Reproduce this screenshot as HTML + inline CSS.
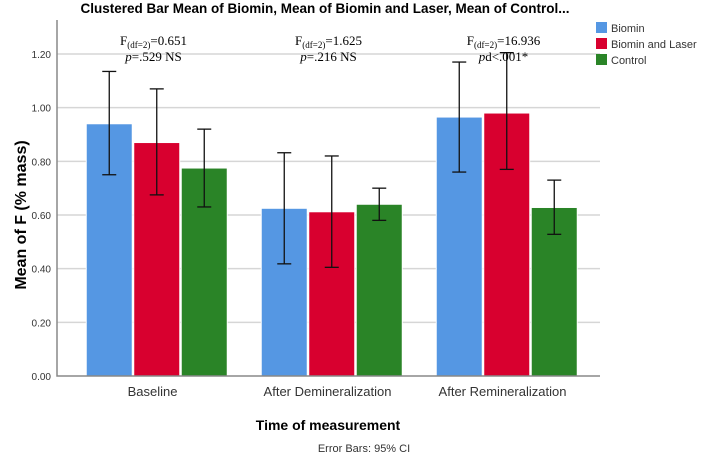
<!DOCTYPE html>
<html><head><meta charset="utf-8"><style>
body{margin:0;background:#fff;}
svg{display:block;font-family:"Liberation Sans",sans-serif;}
</style></head><body>
<svg id="chart" width="708" height="458">
<text x="325" y="13" text-anchor="middle" font-size="13.5" font-weight="bold">Clustered Bar Mean of Biomin, Mean of Biomin and Laser, Mean of Control...</text>
<text transform="translate(26,215) rotate(-90)" text-anchor="middle" font-size="16" font-weight="bold">Mean of F (% mass)</text>
<text x="328" y="430" text-anchor="middle" font-size="14" font-weight="bold">Time of measurement</text>
<text x="364" y="452" text-anchor="middle" font-size="11" fill="#333">Error Bars: 95% CI</text>
<g id="grid"></g><g id="bars"></g><g id="axes"></g><g id="annot"></g><g id="legend"></g>
</svg>
<script>
const categories=["Baseline","After Demineralization","After Remineralization"];
const seriesNames=["Biomin","Biomin and Laser","Control"];
const biomin=[0.94,0.625,0.965];
const biominLaser=[0.87,0.612,0.98];
const control=[0.775,0.64,0.628];
const biominLo=[0.75,0.418,0.76], biominHi=[1.135,0.832,1.17];
const laserLo=[0.675,0.405,0.77], laserHi=[1.07,0.82,1.205];
const controlLo=[0.63,0.58,0.528], controlHi=[0.92,0.70,0.73];
const yTicks=[0,0.2,0.4,0.6,0.8,1.0,1.2];
const fLabels=["0.651","1.625","16.936"];
const pLabels=["=.529 NS","=.216 NS","d<.001*"];
const colors=["#5597e3","#d8002f","#2a8427"];
const NS="http://www.w3.org/2000/svg";
const x0=57,x1=600,yBase=376,yTop=20;
const bandStart=70,bandEnd=595;
const y=v=>yBase-v*(322/1.2);
const groupW=(bandEnd-bandStart)/3, barW=46;
const gx=i=>bandStart+groupW*(i+0.5);
function mk(tag,attrs,parent){const e=document.createElementNS(NS,tag);for(const k in attrs)e.setAttribute(k,attrs[k]);parent.appendChild(e);return e;}
const grid=document.getElementById('grid'),bars=document.getElementById('bars'),axes=document.getElementById('axes'),annot=document.getElementById('annot'),legend=document.getElementById('legend');
yTicks.forEach(t=>{
 if(t>0){const l=mk('line',{x1:x0,x2:x1,y1:y(t),y2:y(t),stroke:'#d6d6d6','stroke-width':1.5},grid);
 
 }
 const tx=mk('text',{x:x0-6,y:y(t)+4,'text-anchor':'end','font-size':10,fill:'#333'},axes);tx.textContent=t.toFixed(2);
 
 
});
const series=[[biomin,biominLo,biominHi],[biominLaser,laserLo,laserHi],[control,controlLo,controlHi]];
categories.forEach((c,i)=>{
 series.forEach((s,j)=>{
  const bx=gx(i)+(j-1.5)*(barW+1.5);
  const r=mk('rect',{x:bx,y:y(s[0][i]),width:barW,height:yBase-y(s[0][i]),fill:colors[j],stroke:'#fff','stroke-width':1},bars);
  
  
  const cx=bx+barW/2;
  const eb=mk('g',{stroke:'#111','stroke-width':1.3},bars);
  
  
  mk('line',{x1:cx,x2:cx,y1:y(s[1][i]),y2:y(s[2][i])},eb);
  mk('line',{x1:cx-7,x2:cx+7,y1:y(s[1][i]),y2:y(s[1][i])},eb);
  mk('line',{x1:cx-7,x2:cx+7,y1:y(s[2][i]),y2:y(s[2][i])},eb);
 });
 const t=mk('text',{x:gx(i)-5,y:396,'text-anchor':'middle','font-size':13,fill:'#333'},axes);t.textContent=c;
 
 
 const f=mk('text',{x:gx(i)-4,y:45,'text-anchor':'middle','font-size':13,'font-family':'Liberation Serif,serif'},annot);
 f.innerHTML='F<tspan font-size="9" dy="3">(df=2)</tspan><tspan dy="-3">='+fLabels[i]+'</tspan>';
 
 
 const p=mk('text',{x:gx(i)-4,y:61,'text-anchor':'middle','font-size':13,'font-family':'Liberation Serif,serif'},annot);
 p.innerHTML='<tspan font-style="italic">p</tspan>'+pLabels[i];
 
 
});
const ax=mk('path',{d:`M${x0},${yTop}V${yBase}H${x1}`,fill:'none',stroke:'#888','stroke-width':1.5},axes);


seriesNames.forEach((n,j)=>{
 const g=mk('g',{},legend);
 
 
 mk('rect',{x:596,y:22+j*16,width:11,height:11,fill:colors[j]},g);
 const t=mk('text',{x:611,y:32+j*16,'font-size':11,fill:'#333'},g);t.textContent=n;
});
</script>
</body></html>
